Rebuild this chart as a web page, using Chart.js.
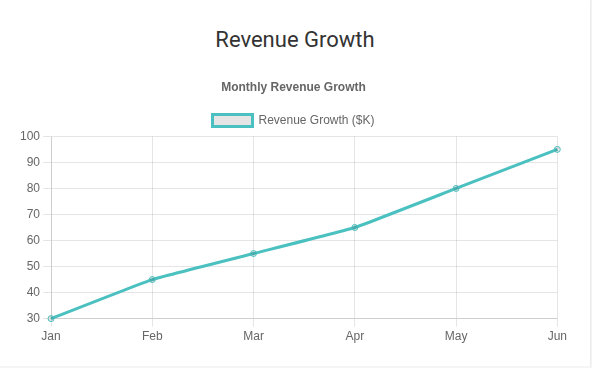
<!DOCTYPE html>
<html>
<head>
<meta charset="utf-8">
<script src="https://cdn.jsdelivr.net/npm/chart.js@4"></script>
<style>
    body { margin: 0; background: #f5f5f5; }
    .card {
        position: relative;
        width: 590px;
        height: 366px;
        background: #fff;
        box-shadow: 0 0 2px rgba(0, 0, 0, 0.12);
    }
    h2 {
        position: absolute;
        top: 26px;
        left: 0;
        width: 100%;
        margin: 0;
        text-align: center;
        font-family: Roboto, sans-serif;
        font-weight: 400;
        font-size: 22px;
        line-height: 28px;
        color: #333;
    }
    .chart-box {
        position: absolute;
        left: 17px;
        top: 70px;
        width: 553px;
        height: 277px;
    }
</style>
</head>
<body>
<div class="card">
    <h2>Revenue Growth</h2>
    <div class="chart-box"><canvas id="revenueChart"></canvas></div>
</div>
<script>
const months = ['Jan', 'Feb', 'Mar', 'Apr', 'May', 'Jun'];
const revenue = [30, 45, 55, 65, 80, 95];

document.addEventListener('DOMContentLoaded', function() {
    var ctx = document.getElementById('revenueChart').getContext('2d');
    window.revenueChart = new Chart(ctx, {
        type: 'line',
        data: {
            labels: months,
            datasets: [{
                label: 'Revenue Growth ($K)',
                data: revenue,
                borderColor: 'rgb(75, 192, 192)',
                backgroundColor: 'rgba(0, 0, 0, 0.1)',
                pointBackgroundColor: 'rgba(0, 0, 0, 0.1)',
                borderWidth: 3,
                tension: 0.1,
                pointRadius: 3,
                pointBorderWidth: 1,
                clip: false,
                fill: false
            }]
        },
        options: {
            responsive: true,
            maintainAspectRatio: false,
            animation: false,
            plugins: {
                title: {
                    display: true,
                    text: 'Monthly Revenue Growth'
                }
            },
            scales: {
                y: {
                    min: 30,
                    max: 100,
                    ticks: { stepSize: 10 }
                }
            }
        }
    });
});
</script>
</body>
</html>
